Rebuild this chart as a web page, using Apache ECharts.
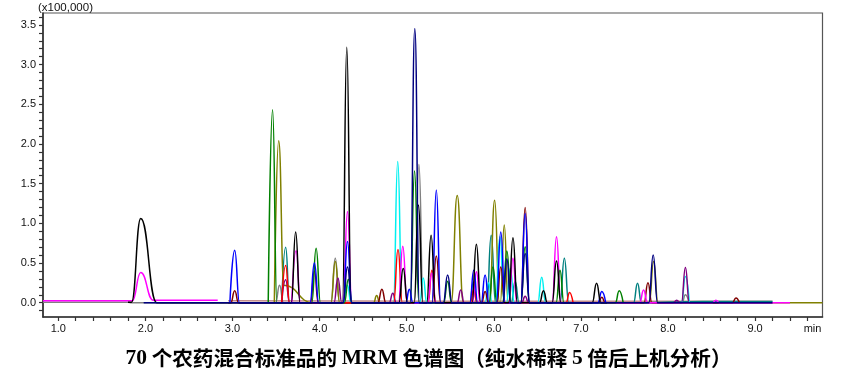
<!DOCTYPE html>
<html><head><meta charset="utf-8">
<script src="https://cdn.jsdelivr.net/npm/echarts@6/dist/echarts.min.js"></script>
<style>html,body{margin:0;padding:0;background:#fff}#c{width:866px;height:374px}</style>
</head><body><div id="c"></div>
<script>
// ---- data: [retention time (min), intensity (x100,000)] ----
const gray = [[0.824,0.005],[1.80,0.005],[1.84,0],
  [3.495,0],[3.54,0.22],[3.585,0],
  [4.13,0],[4.18,0.56],[4.23,0],
  [5.09,0],[5.14,1.74],[5.19,0],
  [8.16,0],[8.20,0.10],[8.24,0]];
const rosy = [[2.95,0.025],[5.5,0.02],[9.2,0.02]];
const magentaBase = [[0.824,0.025],[1.85,0.025],[1.946,0.38],[2.09,0.03],[2.83,0.03]];
const black = [[1.80,0.005],[1.84,0.005],[1.946,1.06],[2.13,0],[2.25,0],
  [3.675,0],[3.725,0.89],[3.775,0],
  [4.262,0],[4.312,3.22],[4.362,0],
  [4.91,0],[4.96,0.43],[5.01,0],
  [5.085,0],[5.135,1.23],[5.185,0],
  [5.23,0],[5.28,0.85],[5.33,0],
  [5.75,0],[5.80,0.735],[5.85,0],
  [6.17,0],[6.22,0.82],[6.27,0],
  [6.525,0],[6.57,0.15],[6.615,0],
  [6.67,0],[6.72,0.525],[6.77,0],
  [7.13,0],[7.18,0.244],[7.23,0],[7.3,0]];
const magenta = [[3.68,0],[3.73,0.655],[3.78,0],
  [4.27,0],[4.32,1.15],[4.37,0],
  [4.905,0],[4.955,0.71],[5.005,0],
  [5.24,0],[5.287,0.37],[5.335,0],
  [5.755,0],[5.80,0.39],[5.845,0],
  [6.175,0],[6.22,0.56],[6.265,0],
  [6.67,0],[6.72,0.83],[6.77,0],
  [7.675,0],[7.72,0.16],[7.765,0],
  [8.51,0],[8.55,0.03],[8.59,0],
  [9.2,0],[9.4,0]];
const blue = [[2.97,0],[3.025,0.66],[3.08,0],
  [3.89,0],[3.94,0.50],[3.99,0],
  [4.27,0],[4.32,0.77],[4.37,0],
  [4.99,0],[5.03,0.17],[5.07,0],
  [5.29,0],[5.34,1.42],[5.39,0],
  [5.725,0],[5.77,0.41],[5.815,0],
  [5.855,0],[5.90,0.35],[5.945,0],
  [6.03,0],[6.08,0.89],[6.13,0],
  [6.31,0],[6.36,1.125],[6.41,0],
  [7.195,0],[7.24,0.14],[7.285,0]];
const navy = [[1.98,0],[4.27,0],[4.32,0.45],[4.37,0],
  [5.04,0],[5.093,3.456],[5.146,0],
  [5.42,0],[5.47,0.35],[5.52,0],
  [6.105,0],[6.15,0.55],[6.195,0],
  [6.31,0],[6.36,0.62],[6.41,0],
  [7.78,0],[7.83,0.60],[7.88,0],
  [9.2,0]];
const maroon = [[2.95,0],[2.98,0],[3.025,0.15],[3.07,0],
  [3.895,0],[3.94,0.40],[3.985,0],
  [4.67,0],[4.715,0.17],[4.76,0],
  [5.29,0],[5.34,0.59],[5.39,0],
  [5.86,0],[5.90,0.14],[5.94,0],
  [6.035,0],[6.08,0.45],[6.125,0],
  [6.31,0],[6.36,1.20],[6.41,0],
  [7.20,0],[7.24,0.07],[7.28,0],
  [7.725,0],[7.77,0.25],[7.815,0],
  [8.74,0],[8.78,0.06],[8.82,0]];
const green = [[3.41,0],[3.46,2.43],[3.51,0],
  [3.91,0],[3.96,0.685],[4.01,0],
  [4.285,0],[4.33,0.295],[4.375,0],
  [5.04,0],[5.09,1.66],[5.14,0],
  [5.425,0],[5.47,0.27],[5.515,0],
  [5.945,0],[5.99,0.45],[6.035,0],
  [6.10,0],[6.15,0.65],[6.20,0],
  [6.31,0],[6.36,0.705],[6.41,0],
  [6.715,0],[6.76,0.41],[6.805,0],
  [7.395,0],[7.44,0.15],[7.485,0]];
const olive = [[3.48,0],[3.53,2.04],[3.59,0.22],[3.92,0],
  [4.13,0],[4.18,0.52],[4.23,0],
  [4.62,0],[4.655,0.09],[4.69,0],
  [5.51,0],[5.58,1.35],[5.65,0],
  [5.95,0],[6.01,1.29],[6.065,0],
  [6.075,0],[6.12,0.98],[6.165,0],
  [7.785,0],[7.835,0.52],[7.885,0],
  [9.4,0],[9.774,0]];
const teal = [[3.565,0],[3.61,0.70],[3.655,0],
  [5.725,0],[5.765,0.26],[5.805,0],
  [5.92,0],[5.97,0.85],[6.02,0],
  [6.20,0],[6.245,0.27],[6.29,0],
  [6.76,0],[6.81,0.56],[6.86,0],
  [7.605,0],[7.65,0.245],[7.695,0],
  [8.4,0.015],[9.2,0.015]];
const cyan = [[4.28,0],[4.32,0.22],[4.36,0],
  [4.847,0],[4.897,1.78],[4.947,0],
  [5.15,0],[5.19,0.31],[5.23,0],
  [5.90,0],[5.94,0.25],[5.98,0],
  [6.02,0],[6.07,0.83],[6.12,0],
  [6.145,0],[6.19,0.43],[6.235,0],
  [6.505,0],[6.55,0.32],[6.595,0],
  [8.155,0],[8.20,0.33],[8.245,0]];
const red = [[3.565,0],[3.61,0.47],[3.655,0],
  [4.85,0],[4.90,0.67],[4.95,0],
  [5.245,0],[5.29,0.41],[5.335,0],
  [5.73,0],[5.77,0.17],[5.81,0],
  [6.83,0],[6.87,0.13],[6.91,0]];
const purple = [[3.565,0],[3.61,0.29],[3.655,0],
  [4.165,0],[4.21,0.31],[4.255,0],
  [4.80,0],[4.84,0.12],[4.88,0],
  [5.58,0],[5.62,0.16],[5.66,0],
  [6.32,0],[6.36,0.08],[6.40,0],
  [8.06,0],[8.10,0.03],[8.14,0],
  [8.155,0],[8.20,0.445],[8.245,0],
  [9.2,0]];

// ---- axis ticks / labels ----
const xLabelValues = [1,2,3,4,5,6,7,8,9,9.66];
const xLabelTexts = ['1.0','2.0','3.0','4.0','5.0','6.0','7.0','8.0','9.0','min'];
const xTickValues = [1.0,1.2,1.4,1.6,1.8,2.0,2.2,2.4,2.6,2.8,3.0,3.2,3.4,3.6,3.8,4.0,4.2,4.4,4.6,4.8,5.0,5.2,5.4,5.6,5.8,6.0,6.2,6.4,6.6,6.8,7.0,7.2,7.4,7.6,7.8,8.0,8.2,8.4,8.6,8.8,9.0,9.2,9.4,9.6];
const yLabelValues = [0,0.5,1.0,1.5,2.0,2.5,3.0,3.5];
const yLabelTexts = ['0.0','0.5','1.0','1.5','2.0','2.5','3.0','3.5'];
const yTickValues = [-0.1,0,0.1,0.2,0.3,0.4,0.5,0.6,0.7,0.8,0.9,1.0,1.1,1.2,1.3,1.4,1.5,1.6,1.7,1.8,1.9,2.0,2.1,2.2,2.3,2.4,2.5,2.6,2.7,2.8,2.9,3.0,3.1,3.2,3.3,3.4,3.5,3.6];

const seriesDefs = [
  ['rosy', rosy, '#c08a8a'],
  ['gray', gray, '#808080'],
  ['magentaBase', magentaBase, '#ff00ff'],
  ['teal', teal, '#008080'],
  ['olive', olive, '#808000'],
  ['cyan', cyan, '#00f0f0'],
  ['purple', purple, '#800080'],
  ['maroon', maroon, '#800000'],
  ['red', red, '#ff0000'],
  ['magenta', magenta, '#ff00ff'],
  ['green', green, '#008000'],
  ['blue', blue, '#0000ff'],
  ['black', black, '#000000'],
  ['navy', navy, '#000080']
];

const chart = echarts.init(document.getElementById('c'), null, {renderer:'canvas'});
const labelFont = 'Liberation Sans';
chart.setOption({
  animation: false,
  backgroundColor: '#fff',
  grid: {left: 43, right: 43.5, top: 13, bottom: 57, show: true, borderColor: '#555', borderWidth: 1.2, backgroundColor: 'transparent'},
  xAxis: {
    type: 'value', min: 0.824, max: 9.774,
    axisLine: {show: true, onZero: false, lineStyle: {color: '#333', width: 1.6}},
    axisTick: {show: true, length: 4, customValues: xTickValues, lineStyle: {color: '#333', width: 1.2}},
    axisLabel: {show: true, margin: 6, customValues: xLabelValues, color: '#111', fontSize: 11, fontFamily: labelFont,
      formatter: v => { const i = xLabelValues.findIndex(a => Math.abs(a - v) < 1e-6); return i >= 0 ? xLabelTexts[i] : ''; }},
    splitLine: {show: false}
  },
  yAxis: {
    type: 'value', min: -0.18, max: 3.65,
    axisLine: {show: true, onZero: false, lineStyle: {color: '#333', width: 1.6}},
    axisTick: {show: true, length: 4, customValues: yTickValues, lineStyle: {color: '#333', width: 1.2}},
    axisLabel: {show: true, margin: 7, customValues: yLabelValues, color: '#111', fontSize: 11, fontFamily: labelFont,
      formatter: v => { const i = yLabelValues.findIndex(a => Math.abs(a - v) < 1e-6); return i >= 0 ? yLabelTexts[i] : ''; }},
    splitLine: {show: false}
  },
  graphic: [
    {type: 'text', x: 38, y: 2, style: {text: '(x100,000)', fill: '#111', font: '11.5px "Liberation Sans"'}},
    {type: 'text', x: 428.5, y: 358, style: {
      text: '{b|70} 个农药混合标准品的 {b|MRM} 色谱图（纯水稀释 {b|5} 倍后上机分析）',
      align: 'center', verticalAlign: 'middle', fill: '#000',
      fontSize: 20.6, fontFamily: '"Noto Sans CJK SC"', fontWeight: 'bold',
      rich: {b: {fontFamily: '"Liberation Serif"', fontWeight: 'bold', fontSize: 21.5, fill: '#000'}}
    }}
  ],
  series: seriesDefs.map(([name, data, color]) => ({
    name, type: 'line', data, smooth: true, smoothMonotone: 'x',
    showSymbol: false, symbol: 'none', clip: true,
    lineStyle: {color, width: 1.5}, itemStyle: {color},
    emphasis: {disabled: true}, silent: true
  }))
});
</script></body></html>
